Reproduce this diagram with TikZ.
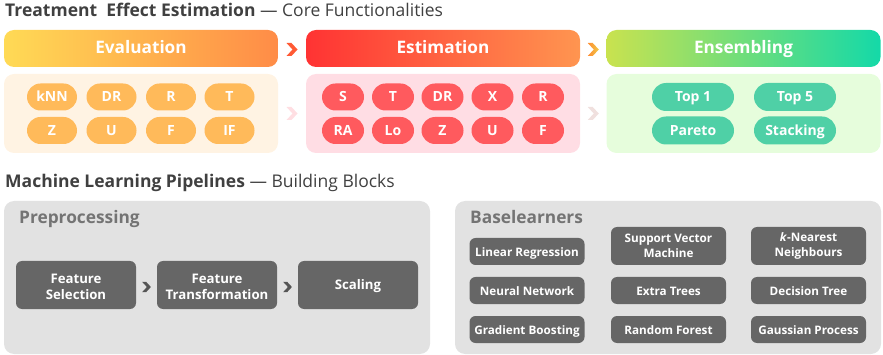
\documentclass[tikz,border=0pt]{standalone}
\usepackage{fontspec}
\setmainfont{Open Sans}
\usetikzlibrary{calc}
\definecolor{titlegray}{HTML}{404040}
\definecolor{evalA}{HTML}{FFDA55}
\definecolor{evalB}{HTML}{FF8C47}
\definecolor{evalbg}{HTML}{FFF3E3}
\definecolor{evalpill}{HTML}{FFBA5A}
\definecolor{estA}{HTML}{FF3333}
\definecolor{estB}{HTML}{FF9550}
\definecolor{estbg}{HTML}{FFDDE4}
\definecolor{estpill}{HTML}{FF5A5E}
\definecolor{ensA}{HTML}{C9E24F}
\definecolor{ensB}{HTML}{14D9A8}
\definecolor{ensbg}{HTML}{E6FDDC}
\definecolor{enspill}{HTML}{4FD0A6}
\definecolor{panelgray}{HTML}{E2E2E2}
\definecolor{darkbox}{HTML}{666666}
\definecolor{paneltitle}{HTML}{747474}
\definecolor{chevdark}{HTML}{555555}
\definecolor{chevA}{HTML}{FF5A35}
\definecolor{chevB1}{HTML}{FF8C32}
\definecolor{chevB2}{HTML}{F0C846}
\definecolor{chevC}{HTML}{FFDEE2}
\definecolor{chevD}{HTML}{F0E0DE}
\tikzset{
  fixline/.style={text height=1.0em, text depth=0pt},
  bar/.style={rounded corners=10pt, minimum width=274pt, minimum height=37pt, inner sep=0pt,
    text=white, font=\fontsize{17.2}{20}\selectfont\bfseries, fixline},
  groupbg/.style={rounded corners=10pt, minimum width=274pt, minimum height=79pt, inner sep=0pt},
  pill/.style={rounded corners=13.5pt, minimum height=27pt, inner sep=0pt, text=white,
    font=\fontsize{14}{16}\selectfont\bfseries, fixline},
  evpill/.style={pill, fill=evalpill, minimum width=50pt},
  espill/.style={pill, fill=estpill, minimum width=42pt},
  enpill/.style={pill, fill=enspill, minimum width=82pt, minimum height=28pt, rounded corners=14pt},
  panel/.style={rounded corners=10pt, fill=panelgray, minimum height=153pt, inner sep=0pt},
  ptitle/.style={anchor=base west, inner sep=0pt, text=paneltitle, font=\fontsize{17.3}{20}\selectfont\bfseries},
  prebox/.style={rounded corners=6pt, fill=darkbox, minimum width=120pt, minimum height=48pt,
    inner sep=0pt, text=white, align=center, font=\fontsize{13.2}{16}\selectfont\bfseries},
  blbox/.style={rounded corners=6pt, fill=darkbox, minimum width=115pt, minimum height=27pt,
    inner sep=0pt, text=white, align=center, font=\fontsize{11.7}{15}\selectfont\bfseries},
  blone/.style={blbox, fixline},
  heading/.style={anchor=base west, inner sep=0pt, text=titlegray, font=\fontsize{17.5}{20}\selectfont},
  pics/chev/.style={code={\path[#1] (-5.5,-6.5) -- (-0.5,-6.5) -- (5.5,0) -- (-0.5,6.5) -- (-5.5,6.5) -- (0.5,0) -- cycle;}}
}
\begin{document}
\begin{tikzpicture}[x=1pt,y=-1pt]
\useasboundingbox (0,0) rectangle (883,355);

% ---- top heading
\node[heading] (h1) at (5,17) {\textbf{Treatment\ \ Effect Estimation} — Core Functionalities};

% ---- bars
\node[bar, left color=evalA, right color=evalB] (evbar) at (141,48.5) {Evaluation};
\node[bar, left color=estA, right color=estB] (esbar) at (443,48.5) {Estimation};
\node[bar, left color=ensA, right color=ensB] (enbar) at (743.5,48.5) {Ensembling};

% ---- group backgrounds
\node[groupbg, fill=evalbg] (evbg) at (141,113.5) {};
\node[groupbg, fill=estbg] (esbg) at (443,113.5) {};
\node[groupbg, fill=ensbg] (enbg) at (743.5,113.5) {};

% ---- chevrons top
\pic at ($(evbar.east)!0.5!(esbar.west)+(0,1)$) {chev={fill=chevA}};
\pic at ($(esbar.east)!0.5!(enbar.west)+(0,1)$) {chev={left color=chevB1, right color=chevB2}};
\pic at ($(evbg.east)!0.5!(esbg.west)$) {chev={fill=chevC}};
\pic at ($(esbg.east)!0.5!(enbg.west)$) {chev={fill=chevD}};

% ---- evaluation pills
\node[evpill] (e1) at (52,97) {kNN};
\node[evpill] (e2) at (111.5,97) {DR};
\node[evpill] (e3) at (171,97) {R};
\node[evpill] (e4) at (229.5,97) {T};
\node[evpill] (e5) at (52,130.5) {Z};
\node[evpill] (e6) at (111.5,130.5) {U};
\node[evpill] (e7) at (171,130.5) {F};
\node[evpill] (e8) at (229.5,130.5) {IF};

% ---- estimation pills
\node[espill] (s1) at (343,97) {S};
\node[espill] (s2) at (393,97) {T};
\node[espill] (s3) at (442.5,97) {DR};
\node[espill] (s4) at (492.5,97) {X};
\node[espill] (s5) at (543,97) {R};
\node[espill] (s6) at (343,130.5) {RA};
\node[espill] (s7) at (393,130.5) {Lo};
\node[espill] (s8) at (442.5,130.5) {Z};
\node[espill] (s9) at (492.5,130.5) {U};
\node[espill] (s10) at (543,130.5) {F};

% ---- ensembling pills
\node[enpill] (n1) at (693,97) {Top 1};
\node[enpill] (n2) at (795,97) {Top 5};
\node[enpill] (n3) at (693,130.5) {Pareto};
\node[enpill] (n4) at (795,130.5) {Stacking};

% ---- bottom heading
\node[heading] (h2) at (5,188) {\textbf{Machine Learning Pipelines} — Building Blocks};

% ---- panels
\node[panel, minimum width=426pt] (pp) at (217,277.5) {};
\node[panel, minimum width=426pt] (bl) at (668,277.5) {};
\node[ptitle] (pt) at (19,224) {Preprocessing};
\node[ptitle] (bt) at (470,224) {Baselearners};

% ---- preprocessing steps
\node[prebox] (fs) at (76,285) {\rule{0pt}{0.92em}Feature\\Selection};
\node[prebox] (ft) at (217,285) {\rule{0pt}{0.92em}Feature\\Transformation};
\node[prebox, fixline] (sc) at (358,285) {Scaling};
\pic[scale=0.8] at ($(fs.east)!0.5!(ft.west)+(0,2)$) {chev={fill=chevdark}};
\pic[scale=0.8] at ($(ft.east)!0.5!(sc.west)+(0,2)$) {chev={fill=chevdark}};

% ---- baselearners
\node[blone] (b1) at (527,251.5) {Linear Regression};
\node[blbox, minimum height=38pt] (b2) at (668.5,246) {Support Vector\\Machine};
\node[blbox, minimum height=38pt] (b3) at (808.5,246) {\textit{k}-Nearest\\Neighbours\vphantom{M}};
\node[blone] (b4) at (527,290.5) {Neural Network};
\node[blone] (b5) at (668.5,290.5) {Extra Trees};
\node[blone] (b6) at (808.5,290.5) {Decision Tree};
\node[blone] (b7) at (527,329.5) {Gradient Boosting};
\node[blone] (b8) at (668.5,329.5) {Random Forest};
\node[blone] (b9) at (808.5,329.5) {Gaussian Process};
\end{tikzpicture}
\end{document}
